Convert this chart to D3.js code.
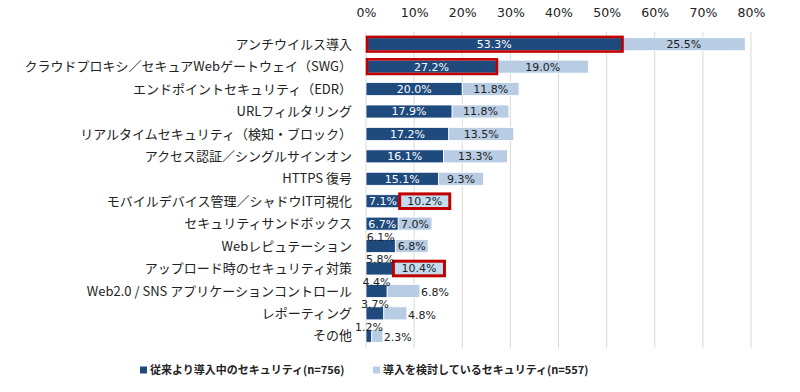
<!DOCTYPE html>
<html><head><meta charset="utf-8">
<script src="https://cdn.jsdelivr.net/npm/d3@7"></script>
<style>
html,body{margin:0;padding:0;background:#fff;}
svg{display:block;}
</style></head>
<body>
<svg id="chart" width="800" height="392"></svg>
<script>
const categories = [
  "アンチウイルス導入",
  "クラウドプロキシ／セキュアWebゲートウェイ（SWG）",
  "エンドポイントセキュリティ（EDR）",
  "URLフィルタリング",
  "リアルタイムセキュリティ（検知・ブロック）",
  "アクセス認証／シングルサインオン",
  "HTTPS 復号",
  "モバイルデバイス管理／シャドウIT可視化",
  "セキュリティサンドボックス",
  "Webレピュテーション",
  "アップロード時のセキュリティ対策",
  "Web2.0 / SNS アプリケーションコントロール",
  "レポーティング",
  "その他"
];
const currentValues = [53.3, 27.2, 20.0, 17.9, 17.2, 16.1, 15.1, 7.1, 6.7, 6.1, 5.8, 4.4, 3.7, 1.2];
const plannedValues = [25.5, 19.0, 11.8, 11.8, 13.5, 13.3, 9.3, 10.2, 7.0, 6.8, 10.4, 6.8, 4.8, 2.3];
const tickValues = [0, 10, 20, 30, 40, 50, 60, 70, 80];
const seriesNames = ["従来より導入中のセキュリティ(n=756)", "導入を検討しているセキュリティ(n=557)"];
const highlightCurrent = ["アンチウイルス導入", "クラウドプロキシ／セキュアWebゲートウェイ（SWG）"];
const highlightPlanned = ["モバイルデバイス管理／シャドウIT可視化", "アップロード時のセキュリティ対策"];

const DARK = "#1f4a7e", LIGHT = "#b8cce4", RED = "#c00000";
const numFont = "'DejaVu Sans', Verdana, sans-serif";
const jpFont = "'Noto Sans CJK JP', 'Noto Sans', sans-serif";

const svg = d3.select("#chart");
const x = d3.scaleLinear().domain([0, 80]).range([366, 751]);
const y = d3.scaleBand().domain(categories).range([33, 347]).paddingInner(0.42).paddingOuter(0.21);
const bw = y.bandwidth();

// gridlines
svg.append("g").selectAll("line").data(tickValues).join("line")
  .attr("x1", d => x(d)).attr("x2", d => x(d))
  .attr("y1", 32).attr("y2", 348)
  .attr("stroke", "#d9d9d9").attr("stroke-width", 1);

// top axis
const axis = svg.append("g").attr("transform", "translate(0,17)")
  .call(d3.axisTop(x).tickValues(tickValues).tickSize(0).tickPadding(0).tickFormat(d => d + "%"));
axis.select(".domain").remove();
axis.selectAll("text").attr("font-family", numFont).attr("font-size", 12.5).attr("fill", "#222");

// category labels
svg.append("g").selectAll("text").data(categories).join("text")
  .attr("x", 352).attr("y", d => y(d) + bw / 2).attr("dy", "0.36em")
  .attr("text-anchor", "end").attr("font-family", jpFont).attr("font-size", 13).attr("fill", "#222")
  .text(d => d);

const rows = categories.map((c, i) => ({c, cur: currentValues[i], pl: plannedValues[i]}));

// dark bars
svg.append("g").selectAll("rect").data(rows).join("rect")
  .attr("x", x(0)).attr("y", d => y(d.c))
  .attr("width", d => x(d.cur) - x(0)).attr("height", bw)
  .attr("fill", DARK).attr("stroke", "#fff").attr("stroke-width", 0.8);
// light bars
svg.append("g").selectAll("rect").data(rows).join("rect")
  .attr("x", d => x(d.cur)).attr("y", d => y(d.c))
  .attr("width", d => x(d.cur + d.pl) - x(d.cur)).attr("height", bw)
  .attr("fill", d => highlightPlanned.includes(d.c) ? "#c3dcef" : LIGHT)
  .attr("stroke", "#fff").attr("stroke-width", 0.8);

// red highlight boxes
svg.append("g").selectAll("rect").data(rows.filter(d => highlightCurrent.includes(d.c))).join("rect")
  .attr("x", x(0) + 1).attr("y", d => y(d.c) - 0.8)
  .attr("width", d => x(d.cur) - x(0) - 1).attr("height", bw + 1.6)
  .attr("fill", "none").attr("stroke", RED).attr("stroke-width", 2.6);
svg.append("g").selectAll("rect").data(rows.filter(d => highlightPlanned.includes(d.c))).join("rect")
  .attr("x", d => x(d.cur) - 0.5).attr("y", d => y(d.c) - 0.8)
  .attr("width", d => x(d.cur + d.pl) - x(d.cur) + 1).attr("height", bw + 1.6)
  .attr("fill", "none").attr("stroke", RED).attr("stroke-width", 3);

const fmt = v => v.toFixed(1) + "%";
// dark labels
svg.append("g").selectAll("text").data(rows).join("text")
  .attr("x", d => (x(0) + x(d.cur)) / 2)
  .attr("y", d => d.cur < 6.5 ? y(d.c) + 1.5 : y(d.c) + bw / 2)
  .attr("dy", d => d.cur < 6.5 ? 0 : "0.36em")
  .attr("text-anchor", "middle").attr("font-family", numFont).attr("font-size", 11)
  .attr("fill", d => d.cur < 6.5 ? "#222" : "#fff")
  .text(d => fmt(d.cur));
// light labels
svg.append("g").selectAll("text").data(rows).join("text")
  .attr("x", d => (d.cur + d.pl) < 12 ? x(d.cur + d.pl) + 1 : (x(d.cur) + x(d.cur + d.pl)) / 2)
  .attr("y", d => y(d.c) + bw / 2 + ((d.cur + d.pl) < 12 ? 1.5 : 0))
  .attr("dy", "0.36em")
  .attr("text-anchor", d => (d.cur + d.pl) < 12 ? "start" : "middle")
  .attr("font-family", numFont).attr("font-size", 11).attr("fill", "#222")
  .text(d => fmt(d.pl));

// legend
const legend = svg.append("g");
const legendItems = [
  {name: seriesNames[0], color: DARK, x: 140},
  {name: seriesNames[1], color: LIGHT, x: 373}
];
legendItems.forEach(it => {
  legend.append("rect").attr("x", it.x).attr("y", 366.5).attr("width", 7).attr("height", 7).attr("fill", it.color);
  legend.append("text").attr("x", it.x + 10).attr("y", 370).attr("dy", "0.36em")
    .attr("font-family", jpFont).attr("font-weight", "bold").attr("font-size", 11).attr("fill", "#222")
    .text(it.name);
});
</script>
</body></html>
